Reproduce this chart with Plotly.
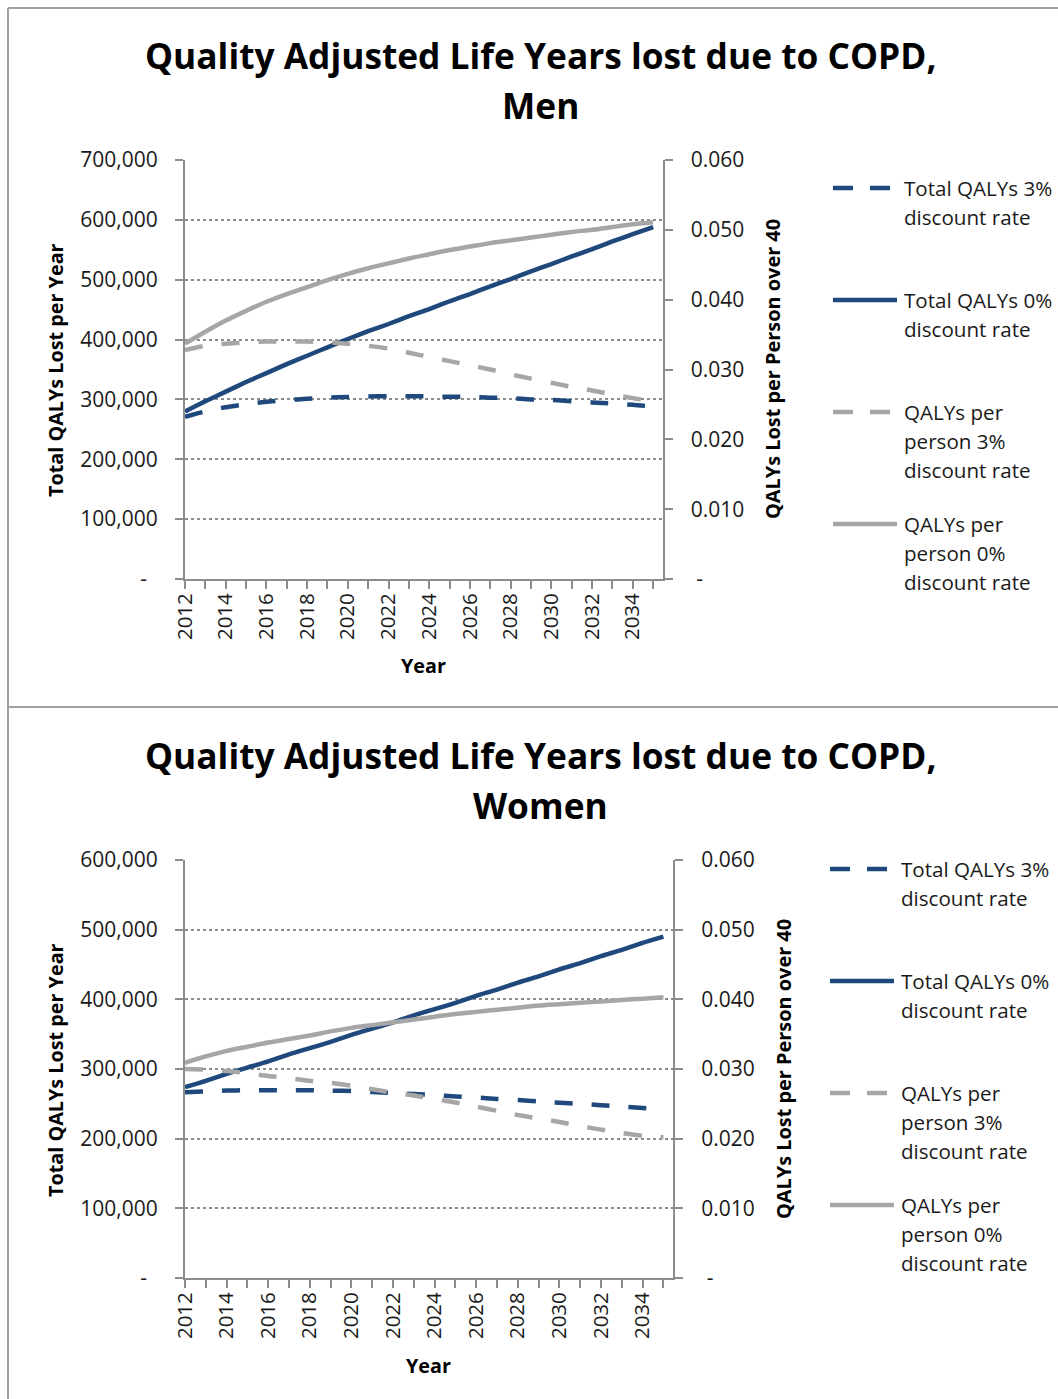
import plotly.graph_objects as go

# ---------------- data ----------------
years = [2012, 2013, 2014, 2015, 2016, 2017, 2018, 2019, 2020, 2021, 2022, 2023,
         2024, 2025, 2026, 2027, 2028, 2029, 2030, 2031, 2032, 2033, 2034, 2035]
year_tick_labels = ["2012", "2014", "2016", "2018", "2020", "2022",
                    "2024", "2026", "2028", "2030", "2032", "2034"]

series_names = ["Total QALYs 3%<br>discount rate", "Total QALYs 0%<br>discount rate",
                "QALYs per<br>person 3%<br>discount rate", "QALYs per<br>person 0%<br>discount rate"]

# Men
men_total_3pct = [271000, 280000, 287000, 292000, 296000, 299000, 301000, 303000, 304000, 305000, 305500, 305500,
                  305000, 304500, 304000, 303000, 302000, 300000, 299000, 297000, 295000, 293000, 291000, 288000]
men_total_0pct = [280000, 297000, 313000, 329000, 344000, 359000, 373000, 387000, 401000, 414000, 426000, 439000,
                  451000, 464000, 476000, 489000, 501000, 514000, 526000, 539000, 551000, 564000, 576000, 588000]
men_pp_3pct = [0.0328, 0.0334, 0.0337, 0.0339, 0.0340, 0.0340, 0.0340, 0.0339, 0.0337, 0.0334, 0.0330, 0.0324,
               0.0318, 0.0312, 0.0306, 0.0300, 0.0293, 0.0287, 0.0281, 0.0275, 0.0270, 0.0264, 0.0259, 0.0254]
men_pp_0pct = [0.0337, 0.0354, 0.0370, 0.0384, 0.0397, 0.0408, 0.0418, 0.0428, 0.0437, 0.0445, 0.0452, 0.0459,
               0.0465, 0.0471, 0.0476, 0.0481, 0.0485, 0.0489, 0.0493, 0.0497, 0.0500, 0.0504, 0.0508, 0.0511]

# Women
women_total_3pct = [266500, 268000, 269000, 269500, 269500, 269500, 269500, 269000, 268500, 267000, 265500, 264000,
                    262500, 260500, 259000, 257000, 255500, 253500, 251500, 250000, 248000, 246000, 244000, 242000]
women_total_0pct = [274000, 283000, 293000, 302000, 311000, 321000, 330000, 339000, 349000, 358000, 367000, 377000,
                    386000, 395000, 405000, 414000, 424000, 433000, 443000, 452000, 462000, 471000, 481000, 490000]
women_pp_3pct = [0.0300, 0.0299, 0.0297, 0.0294, 0.0290, 0.0287, 0.0283, 0.0280, 0.0276, 0.0271, 0.0266, 0.0262,
                 0.0257, 0.0252, 0.0246, 0.0240, 0.0234, 0.0229, 0.0224, 0.0218, 0.0213, 0.0208, 0.0204, 0.0202]
women_pp_0pct = [0.0309, 0.0318, 0.0326, 0.0332, 0.0338, 0.0343, 0.0348, 0.0354, 0.0359, 0.0363, 0.0367, 0.0371,
                 0.0375, 0.0379, 0.0382, 0.0385, 0.0388, 0.0391, 0.0393, 0.0395, 0.0397, 0.0399, 0.0401, 0.0403]

men_left_ticks = [0, 100000, 200000, 300000, 400000, 500000, 600000, 700000]
men_left_text = ["-\u00a0\u00a0", "100,000", "200,000", "300,000", "400,000", "500,000", "600,000", "700,000"]
women_left_ticks = [0, 100000, 200000, 300000, 400000, 500000, 600000]
women_left_text = ["-\u00a0\u00a0", "100,000", "200,000", "300,000", "400,000", "500,000", "600,000"]
right_ticks = [0, 0.01, 0.02, 0.03, 0.04, 0.05, 0.06]
right_text = ["\u00a0-", "0.010", "0.020", "0.030", "0.040", "0.050", "0.060"]

# ---------------- style ----------------
W, H = 1058, 1399
FONT = "Open Sans"
DARK = "#1F497D"
GRAY = "#A6A6A6"
AXC = "#8C8C8C"
TXT = "#1a1a1a"
LW = 4.5
DASH = "18px,19px"


def px(x):
    return x / W


def py(y):
    return 1 - y / H


fig = go.Figure()

styles = [(DARK, DASH), (DARK, "solid"), (GRAY, DASH), (GRAY, "solid")]
men_series = [(men_total_3pct, "y"), (men_total_0pct, "y"), (men_pp_3pct, "y2"), (men_pp_0pct, "y2")]
women_series = [(women_total_3pct, "y3"), (women_total_0pct, "y3"), (women_pp_3pct, "y4"), (women_pp_0pct, "y4")]

for (vals, ya), (c, d), nm in zip(men_series, styles, series_names):
    fig.add_trace(go.Scatter(x=years, y=vals, xaxis="x", yaxis=ya, mode="lines",
                             line=dict(color=c, width=LW, dash=d, shape="spline", smoothing=0.6),
                             name=nm.replace("<br>", " "), showlegend=False))
for (vals, ya), (c, d), nm in zip(women_series, styles, series_names):
    fig.add_trace(go.Scatter(x=years, y=vals, xaxis="x2", yaxis=ya, mode="lines",
                             line=dict(color=c, width=LW, dash=d, shape="spline", smoothing=0.6),
                             name=nm.replace("<br>", " "), showlegend=False))

yfont = dict(family=FONT, size=21, color=TXT)
xfont = dict(family=FONT, size=20.5, color=TXT)


def xaxis_def(x0, x1, anchor):
    return dict(domain=[px(x0), px(x1)], anchor=anchor, range=[2012, 2035.46], automargin=False,
                tickmode="array", tickvals=years[::2], ticktext=year_tick_labels,
                tickangle=-90, ticks="outside", ticklen=8, tickwidth=2, tickcolor=AXC,
                minor=dict(dtick=1, tick0=2012, ticks="outside", ticklen=8, tickwidth=2, tickcolor=AXC,
                           showgrid=False),
                showline=True, linecolor=AXC, linewidth=2, showgrid=False, zeroline=False,
                tickfont=xfont, ticklabelstandoff=-4)


def yleft_def(y_top, y_bot, anchor, rng, tv, tt):
    return dict(domain=[py(y_bot), py(y_top)], anchor=anchor, range=rng, automargin=False,
                tickmode="array", tickvals=tv, ticktext=tt,
                ticks="outside", ticklen=8, tickwidth=2, tickcolor=AXC,
                showline=True, linecolor=AXC, linewidth=2,
                showgrid=True, gridcolor=AXC, gridwidth=1.5, griddash="dot",
                zeroline=False, tickfont=yfont, ticklabelstandoff=13)


def yright_def(overlay, anchor):
    return dict(overlaying=overlay, anchor=anchor, side="right", range=[0, 0.06], automargin=False,
                tickmode="array", tickvals=right_ticks, ticktext=right_text,
                ticks="outside", ticklen=8, tickwidth=2, tickcolor=AXC,
                showline=True, linecolor=AXC, linewidth=2, showgrid=False, zeroline=False,
                tickfont=yfont, ticklabelstandoff=14)


fig.update_layout(
    width=W, height=H, margin=dict(l=0, r=0, t=0, b=0, autoexpand=False),
    paper_bgcolor="white", plot_bgcolor="white",
    font=dict(family=FONT, color=TXT),
    showlegend=False,
    xaxis=xaxis_def(185, 662.5, "y"),
    yaxis=yleft_def(160, 579, "x", [0, 700000], men_left_ticks, men_left_text),
    yaxis2=yright_def("y", "x"),
    xaxis2=xaxis_def(185, 673, "y3"),
    yaxis3=yleft_def(860, 1278, "x2", [0, 600000], women_left_ticks, women_left_text),
    yaxis4=yright_def("y3", "x2"),
)

ann = []
shapes = []

# frame
FR = "#A0A0A0"
shapes.append(dict(type="line", xref="paper", yref="paper", x0=px(8), x1=1, y0=py(8), y1=py(8),
                   line=dict(color=FR, width=2)))
shapes.append(dict(type="line", xref="paper", yref="paper", x0=px(8), x1=px(8), y0=py(8), y1=0,
                   line=dict(color=FR, width=2)))
shapes.append(dict(type="line", xref="paper", yref="paper", x0=px(8), x1=1, y0=py(707), y1=py(707),
                   line=dict(color=FR, width=2)))


def text(x, y, s, size, bold=False, xanchor="center", angle=0):
    ann.append(dict(x=px(x), y=py(y), xref="paper", yref="paper", text=f"<b>{s}</b>" if bold else s,
                    showarrow=False, xanchor=xanchor, yanchor="middle", textangle=angle,
                    font=dict(family=FONT, size=size, color="#000000" if bold else TXT)))


for (top, sub, left_title_y, right_x, right_title_y, yr_x, yr_y, leg_x0, leg_ty) in [
    (55, "Men", 370, 773, 369, 423, 665, 833, [188, 300, 412, 524]),
    (755, "Women", 1070, 783, 1069, 428, 1365, 830, [869, 981, 1093, 1205]),
]:
    text(540, top, "Quality Adjusted Life Years lost due to COPD,", 35.3, bold=True)
    text(540, top + 50, sub, 35.3, bold=True)
    text(55, left_title_y, "Total QALYs Lost per Year", 19.8, bold=True, angle=-90)
    text(right_x, right_title_y, "QALYs Lost per Person over 40", 19.9, bold=True, angle=-90)
    text(yr_x, yr_y, "Year", 19.8, bold=True)
    for i, ((c, d), nm) in enumerate(zip(styles, series_names)):
        yy = leg_ty[i]
        if d == "solid":
            shapes.append(dict(type="line", xref="paper", yref="paper", x0=px(leg_x0), x1=px(leg_x0 + 64),
                               y0=py(yy), y1=py(yy), line=dict(color=c, width=LW)))
        else:
            shapes.append(dict(type="line", xref="paper", yref="paper", x0=px(leg_x0), x1=px(leg_x0 + 20),
                               y0=py(yy), y1=py(yy), line=dict(color=c, width=LW)))
            shapes.append(dict(type="line", xref="paper", yref="paper", x0=px(leg_x0 + 37), x1=px(leg_x0 + 57),
                               y0=py(yy), y1=py(yy), line=dict(color=c, width=LW)))
        for j, line in enumerate(nm.split("<br>")):
            text(leg_x0 + 69, yy + 29 * j, line, 20.6, xanchor="left")

fig.update_layout(annotations=ann, shapes=shapes)
fig.write_html("out.html", config={"displayModeBar": False},
               post_script="document.body.style.margin='0px';")
